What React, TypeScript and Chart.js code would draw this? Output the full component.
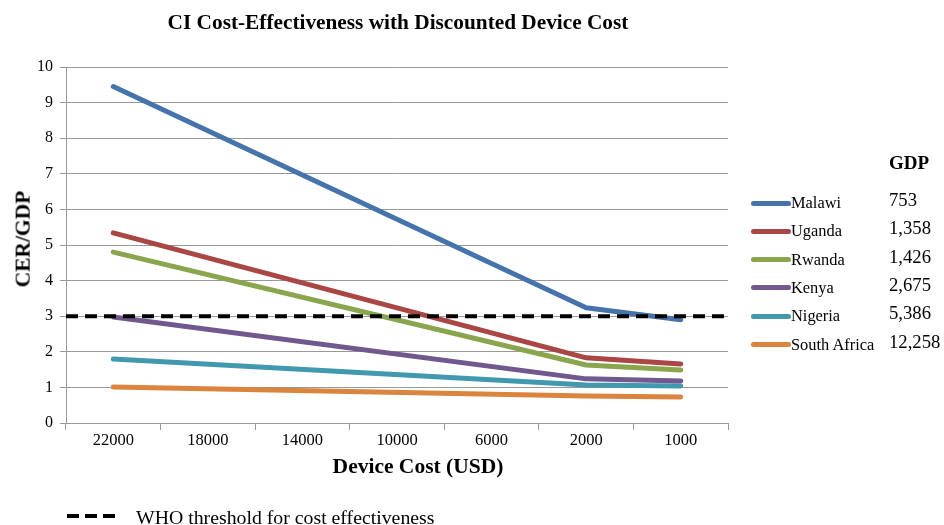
import React, { useEffect, useRef } from "react";
import { Chart, registerables } from "chart.js";

Chart.register(...registerables);

const categories = ["22000", "18000", "14000", "10000", "6000", "2000", "1000"];
const countries = ["Malawi", "Uganda", "Rwanda", "Kenya", "Nigeria", "South Africa"];
const gdpLabels = ["753", "1,358", "1,426", "2,675", "5,386", "12,258"];
const colors = ["#4573AB", "#AA4643", "#89A54E", "#71588F", "#4198AF", "#DB843D"];
const malawi = [9.45, null, null, null, null, 3.24, 2.9];
const uganda = [5.34, null, null, null, null, 1.83, 1.66];
const rwanda = [4.8, null, null, null, null, 1.63, 1.49];
const kenya = [2.98, null, null, null, null, 1.24, 1.18];
const nigeria = [1.8, null, null, null, null, 1.07, 1.04];
const southAfrica = [1.01, null, null, null, null, 0.76, 0.73];
const seriesValues = [malawi, uganda, rwanda, kenya, nigeria, southAfrica];
const whoThreshold = 3;

const FONT = "'Liberation Serif', 'Times New Roman', serif";

export default function App() {
  const ref = useRef<HTMLCanvasElement | null>(null);

  useEffect(() => {
    document.body.style.margin = "0";
    const canvas = ref.current;
    if (!canvas) return;
    const thresholdPlugin = {
      id: "who",
      afterDatasetsDraw(chart: any) {
        const { ctx, chartArea, scales } = chart;
        const y = scales.y.getPixelForValue(whoThreshold);
        ctx.save();
        ctx.strokeStyle = "#000";
        ctx.lineWidth = 4;
        ctx.setLineDash([12, 7]);
        ctx.beginPath();
        ctx.moveTo(chartArea.left, y);
        ctx.lineTo(chartArea.right, y);
        ctx.stroke();
        ctx.restore();
      },
    };
    const chart = new Chart(canvas, {
      type: "line",
      data: {
        labels: categories,
        datasets: countries.map((c, i) => ({
          label: c,
          data: seriesValues[i],
          borderColor: colors[i],
          backgroundColor: colors[i],
          borderWidth: 5,
          borderCapStyle: "round",
          borderJoinStyle: "round",
          pointRadius: 0,
          spanGaps: true,
          tension: 0,
        })),
      },
      options: {
        responsive: false,
        animation: false,
        devicePixelRatio: 1,
        layout: { padding: { left: 0, right: 216, top: 67, bottom: 0 } },
        plugins: { legend: { display: false }, title: { display: false }, tooltip: { enabled: false } },
        scales: {
          x: {
            type: "category",
            offset: true,
            afterFit: (s: any) => { s.height = 102; },
            grid: { offset: true, drawOnChartArea: false, drawTicks: true, tickLength: 7, color: "#999" },
            border: { color: "#999" },
            ticks: { color: "#000", font: { family: FONT, size: 16.5 }, padding: 1, maxRotation: 0 },
          },
          y: {
            min: 0,
            max: 10,
            afterFit: (s: any) => { s.width = 66; },
            grid: { color: "#999", tickLength: 6 },
            border: { color: "#999" },
            ticks: { stepSize: 1, color: "#000", font: { family: FONT, size: 16 }, padding: 7 },
          },
        },
      },
      plugins: [thresholdPlugin],
    } as any);
    return () => chart.destroy();
  }, []);

  const abs = (s: React.CSSProperties): React.CSSProperties => ({ position: "absolute", whiteSpace: "nowrap", lineHeight: 1.15, ...s });

  return (
    <div style={{ position: "absolute", left: 0, top: 0, width: 944, height: 525, background: "#fff", fontFamily: FONT, color: "#000" }}>
      <canvas ref={ref} width={944} height={525} style={{ position: "absolute", left: 0, top: 0 }} />
      <div style={abs({ left: 398, top: 22, fontWeight: "bold", fontSize: 21.3, transform: "translate(-50%, -50%)" })}>
        CI Cost-Effectiveness with Discounted Device Cost
      </div>
      <div style={abs({ left: 23, top: 239, fontWeight: "bold", fontSize: 21.5, transform: "translate(-50%, -50%) rotate(-90deg)" })}>
        CER/GDP
      </div>
      <div style={abs({ left: 418, top: 466, fontWeight: "bold", fontSize: 21.5, transform: "translate(-50%, -50%)" })}>
        Device Cost (USD)
      </div>
      <div style={abs({ left: 889, top: 163, fontWeight: "bold", fontSize: 19, transform: "translateY(-50%)" })}>GDP</div>
      {countries.map((c, i) => (
        <React.Fragment key={c}>
          <div style={abs({ left: 751, top: 203 + i * 28.3 - 2.5, width: 40, height: 5, borderRadius: 3, background: colors[i] })} />
          <div style={abs({ left: 791, top: 203 + i * 28.3, fontSize: 16.4, transform: "translateY(-50%)" })}>{c}</div>
          <div style={abs({ left: 889, top: 200 + i * 28.3, fontSize: 18.7, transform: "translateY(-50%)" })}>{gdpLabels[i]}</div>
        </React.Fragment>
      ))}
      <svg style={{ position: "absolute", left: 67, top: 512 }} width={48} height={8}>
        <line x1={0} y1={4} x2={48} y2={4} stroke="#000" strokeWidth={4} strokeDasharray="12 6" />
      </svg>
      <div style={abs({ left: 136, top: 517, fontSize: 19.8, transform: "translateY(-50%)" })}>
        WHO threshold for cost effectiveness
      </div>
    </div>
  );
}
